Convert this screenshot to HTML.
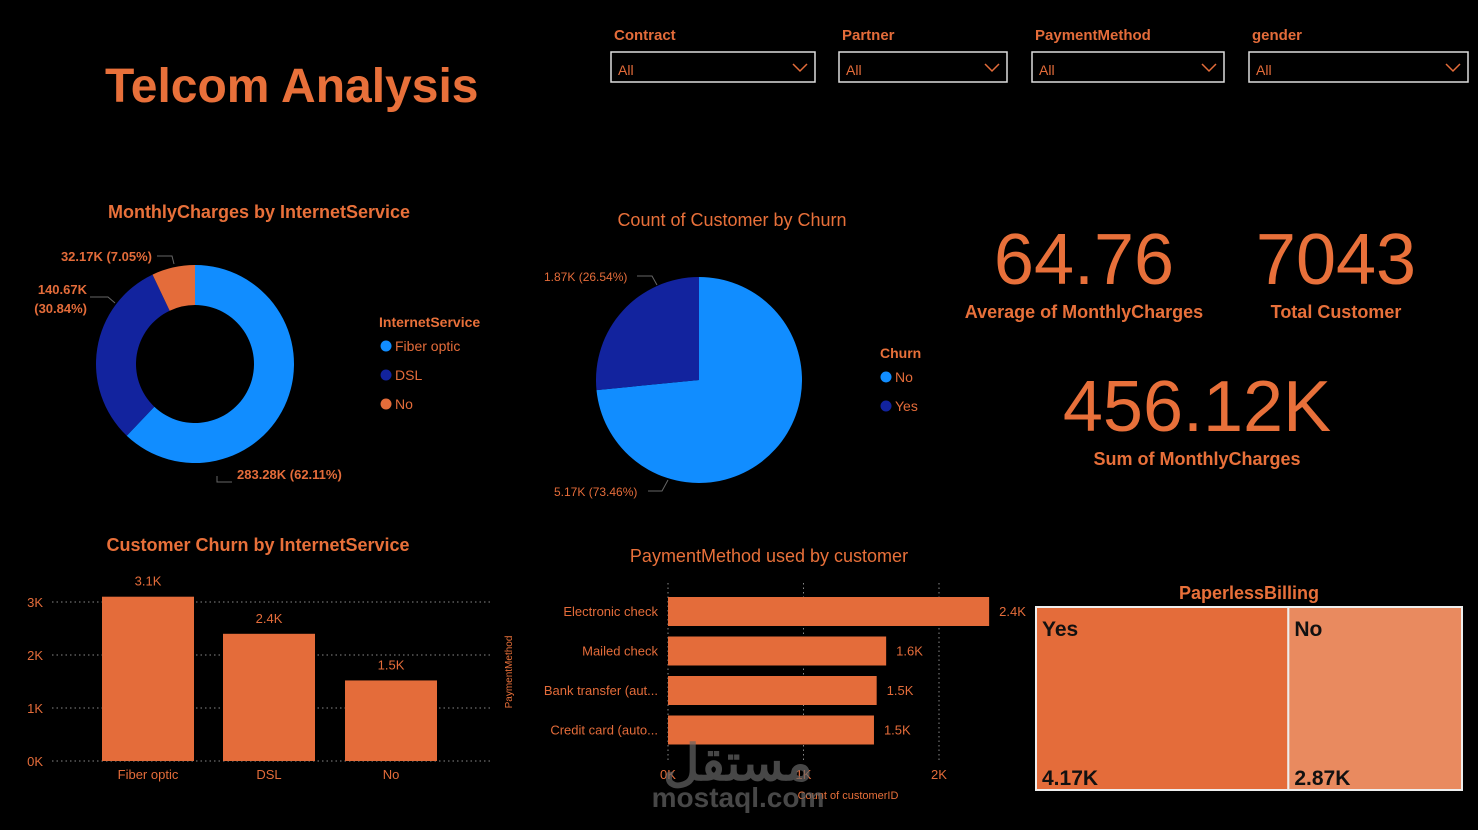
<!DOCTYPE html>
<html><head><meta charset="utf-8"><style>
html,body{margin:0;padding:0;background:#000;}
svg{display:block;font-family:"Liberation Sans",sans-serif;}
</style></head><body>
<svg id="s" width="1478" height="830" viewBox="0 0 1478 830" xmlns="http://www.w3.org/2000/svg">
<rect width="1478" height="830" fill="#000"/>
<text x="105" y="102" font-size="48" font-weight="bold" fill="#E8703A">Telcom Analysis</text>

<g id="filters"></g>

<text x="259" y="218" text-anchor="middle" font-size="18" font-weight="bold" fill="#E8703A">MonthlyCharges by InternetService</text>
<g id="donut"></g>
<text x="379" y="327" font-size="14" font-weight="bold" fill="#E8703A">InternetService</text>
<g id="donutLegend"></g>

<text x="732" y="226" text-anchor="middle" font-size="18" fill="#E8703A">Count of Customer by Churn</text>
<g id="pie"></g>
<text x="880" y="358" font-size="14" font-weight="bold" fill="#E8703A">Churn</text>
<g id="pieLegend"></g>

<text x="1084" y="284" text-anchor="middle" font-size="72" fill="#E8703A">64.76</text>
<text x="1084" y="318" text-anchor="middle" font-size="18" font-weight="bold" fill="#E8703A">Average of MonthlyCharges</text>
<text x="1336" y="284" text-anchor="middle" font-size="72" fill="#E8703A">7043</text>
<text x="1336" y="318" text-anchor="middle" font-size="18" font-weight="bold" fill="#E8703A">Total Customer</text>
<text x="1197" y="431" text-anchor="middle" font-size="72" fill="#E8703A">456.12K</text>
<text x="1197" y="465" text-anchor="middle" font-size="18" font-weight="bold" fill="#E8703A">Sum of MonthlyCharges</text>

<text x="258" y="551" text-anchor="middle" font-size="18" font-weight="bold" fill="#E8703A">Customer Churn by InternetService</text>
<g id="col"></g>

<text x="769" y="562" text-anchor="middle" font-size="18" fill="#E8703A">PaymentMethod used by customer</text>
<text transform="translate(512,672) rotate(-90)" text-anchor="middle" font-size="10" fill="#E8703A">PaymentMethod</text>
<g id="bar"></g>
<text x="848" y="799" text-anchor="middle" font-size="11" fill="#E8703A">Count of customerID</text>

<text x="1249" y="599" text-anchor="middle" font-size="18" font-weight="bold" fill="#E8703A">PaperlessBilling</text>
<g id="tree"></g>

<text x="738" y="780" text-anchor="middle" font-size="50" font-weight="bold" fill="#666" opacity="0.7">مستقل</text>
<text x="738" y="807" text-anchor="middle" font-size="28" font-weight="bold" fill="#666" opacity="0.7">mostaql.com</text>
</svg>
<script>
const NS="http://www.w3.org/2000/svg";
const OR="#E46C3A";
const filterLabels=["Contract","Partner","PaymentMethod","gender"];
const donutCats=["Fiber optic","DSL","No"];
const donutVals=[283.28,140.67,32.17];
const donutLabels=["283.28K (62.11%)","140.67K (30.84%)","32.17K (7.05%)"];
const pieCats=["No","Yes"];
const pieVals=[5.17,1.87];
const pieLabels=["5.17K (73.46%)","1.87K (26.54%)"];
const colCats=["Fiber optic","DSL","No"];
const colVals=[3.1,2.4,1.52];
const colLabels=["3.1K","2.4K","1.5K"];
const colTicks=[0,1,2,3];
const barCats=["Electronic check","Mailed check","Bank transfer (aut...","Credit card (auto..."];
const barVals=[2.37,1.61,1.54,1.52];
const barLabels=["2.4K","1.6K","1.5K","1.5K"];
const barTicks=[0,1,2];
const treeCats=["Yes","No"];
const treeVals=[4.17,2.87];
const treeLabels=["4.17K","2.87K"];

function el(tag,attrs,parent,txt){const e=document.createElementNS(NS,tag);for(const k in attrs)e.setAttribute(k,attrs[k]);if(txt!==undefined)e.textContent=txt;parent.appendChild(e);return e;}

// filters
const fX=[611,839,1032,1249],fW=[204,168,192,219];
const fg=document.getElementById('filters');
filterLabels.forEach((l,i)=>{
 const t=el('text',{x:fX[i]+3,y:40,'font-size':15,'font-weight':'bold',fill:OR},fg,l);
 
 
 const g=el('g',{},fg);
 
 
 el('rect',{x:fX[i],y:52,width:fW[i],height:30,fill:'none',stroke:'#ddd','stroke-width':1.5},g);
 el('text',{x:fX[i]+7,y:75,'font-size':14,fill:OR},g,'All');
 const cx=fX[i]+fW[i]-15;
 el('polyline',{points:`${cx-7},64 ${cx},71 ${cx+7},64`,fill:'none',stroke:OR,'stroke-width':1.5},g);
});

function arc(cx,cy,r0,r1,a0,a1){
 const p=(r,a)=>[cx+r*Math.sin(a),cy-r*Math.cos(a)];
 const lg=(a1-a0)>Math.PI?1:0;
 const [x1,y1]=p(r1,a0),[x2,y2]=p(r1,a1);
 if(r0===0) return `M${cx},${cy}L${x1},${y1}A${r1},${r1} 0 ${lg} 1 ${x2},${y2}Z`;
 const [x3,y3]=p(r0,a1),[x4,y4]=p(r0,a0);
 return `M${x1},${y1}A${r1},${r1} 0 ${lg} 1 ${x2},${y2}L${x3},${y3}A${r0},${r0} 0 ${lg} 0 ${x4},${y4}Z`;
}
// donut
const dCol=["#118DFF","#12239E",OR];
const dg=document.getElementById('donut');
let tot=donutVals.reduce((a,b)=>a+b,0),a=0;
donutVals.forEach((v,i)=>{
 const a1=a+v/tot*2*Math.PI;
 const p=el('path',{d:arc(195,364,59,99,a,a1),fill:dCol[i]},dg);
 
 
 a=a1;
});
const dlPos=[[237,479,'start'],[87,295,'end'],[152,261,'end']];
donutLabels.forEach((l,i)=>{
 let t;
 if(i===1){t=el('text',{x:87,y:294,'font-size':13,'font-weight':'bold',fill:OR,'text-anchor':'end'},dg);
  el('tspan',{x:87},t,'140.67K');el('tspan',{x:87,dy:19},t,'(30.84%)');}
 else t=el('text',{x:dlPos[i][0],y:dlPos[i][1],'font-size':13,'font-weight':'bold',fill:OR,'text-anchor':dlPos[i][2]},dg,l);
 
 
});
el('polyline',{points:'217,476 217,482 232,482',fill:'none',stroke:'#666'},dg);
el('polyline',{points:'90,297 108,297 115,303',fill:'none',stroke:'#666'},dg);
el('polyline',{points:'157,256 172,256 174,264',fill:'none',stroke:'#666'},dg);
const dlg=document.getElementById('donutLegend');
donutCats.forEach((c,i)=>{
 const g=el('g',{},dlg);
 
 
 el('circle',{cx:386,cy:346+i*29,r:5.5,fill:dCol[i]},g);
 el('text',{x:395,y:351+i*29,'font-size':14,fill:OR},g,c);
});
// pie
const pCol=["#118DFF","#12239E"];
const pg=document.getElementById('pie');
tot=pieVals.reduce((a,b)=>a+b,0);a=0;
pieVals.forEach((v,i)=>{
 const a1=a+v/tot*2*Math.PI;
 const p=el('path',{d:arc(699,380,0,103,a,a1),fill:pCol[i]},pg);
 
 
 a=a1;
});
const plPos=[[554,496],[544,281]];
pieLabels.forEach((l,i)=>{
 const t=el('text',{x:plPos[i][0],y:plPos[i][1],'font-size':12,fill:OR},pg,l);
 
 
});
el('polyline',{points:'648,491 662,491 668,480',fill:'none',stroke:'#666'},pg);
el('polyline',{points:'637,276 652,276 657,285',fill:'none',stroke:'#666'},pg);
const plg=document.getElementById('pieLegend');
pieCats.forEach((c,i)=>{
 const g=el('g',{},plg);
 
 
 el('circle',{cx:886,cy:377+i*29,r:5.5,fill:pCol[i]},g);
 el('text',{x:895,y:382+i*29,'font-size':14,fill:OR},g,c);
});
// column chart
const cg=document.getElementById('col');
const cy0=761,cpk=53,cX=[102,223,345],cW=92;
const yC=v=>cy0-v*cpk;
colTicks.forEach(t=>{
 el('line',{x1:52,x2:490,y1:yC(t),y2:yC(t),stroke:'#888','stroke-dasharray':'1.5,3'},cg);
 const tx=el('text',{x:43,y:yC(t)+5,'font-size':13,fill:OR,'text-anchor':'end'},cg,t+'K');
 
 
});
colVals.forEach((v,i)=>{
 const r=el('rect',{x:cX[i],y:yC(v),width:cW,height:v*cpk,fill:OR},cg);
 
 
 el('text',{x:cX[i]+cW/2,y:yC(v)-11,'font-size':13,fill:OR,'text-anchor':'middle'},cg,colLabels[i]);
 el('text',{x:cX[i]+cW/2,y:779,'font-size':13,fill:OR,'text-anchor':'middle'},cg,colCats[i]);
});
// bar chart
const bg=document.getElementById('bar');
const bx0=668,bpk=135.5,bY=[597,636.5,676,715.5],bH=29;
const xB=v=>bx0+v*bpk;
barTicks.forEach(t=>{
 el('line',{x1:xB(t),x2:xB(t),y1:583,y2:760,stroke:'#888','stroke-dasharray':'1.5,3'},bg);
 const tx=el('text',{x:xB(t),y:779,'font-size':13,fill:OR,'text-anchor':'middle'},bg,t+'K');
 
 
});
barVals.forEach((v,i)=>{
 const r=el('rect',{x:bx0,y:bY[i],width:v*bpk,height:bH,fill:OR},bg);
 
 
 el('text',{x:xB(v)+10,y:bY[i]+19,'font-size':13,fill:OR},bg,barLabels[i]);
 el('text',{x:658,y:bY[i]+19,'font-size':13,fill:OR,'text-anchor':'end'},bg,barCats[i]);
});
// treemap
const tg=document.getElementById('tree');
const tx0=1036,tw=426,ty=607,th=183;
tot=treeVals.reduce((a,b)=>a+b,0);let cx=tx0;
const tCol=[OR,"#E98A5F"];
treeVals.forEach((v,i)=>{
 const w=v/tot*tw;
 const g=el('g',{},tg);
 
 
 el('rect',{x:cx,y:ty,width:w,height:th,fill:tCol[i],stroke:'#eee','stroke-width':2},g);
 el('text',{x:cx+6,y:ty+29,'font-size':21,'font-weight':'bold',fill:'#111'},g,treeCats[i]);
 el('text',{x:cx+6,y:ty+th-5,'font-size':21,'font-weight':'bold',fill:'#111'},g,treeLabels[i]);
 cx+=w;
});
</script>
</body></html>
